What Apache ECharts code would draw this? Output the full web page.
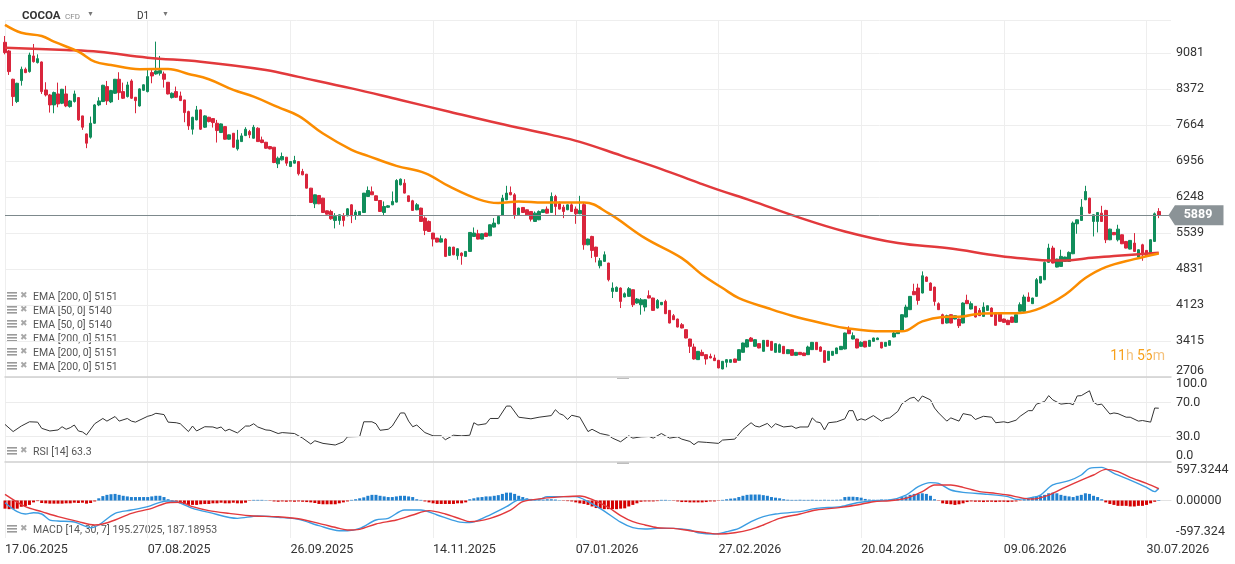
<!DOCTYPE html>
<html><head><meta charset="utf-8">
<script src="https://cdn.jsdelivr.net/npm/echarts@6/dist/echarts.min.js"></script>
<style>html,body{margin:0;padding:0;background:#fff}#c{width:1235px;height:564px}</style>
</head><body><div id="c"></div>
<script>
// ---------------- DATA ----------------
const dateLabels = ['17.06.2025','07.08.2025','26.09.2025','14.11.2025','07.01.2026','27.02.2026','20.04.2026','09.06.2026','30.07.2026'];
const priceTicks = [2706,3415,4123,4831,5539,6248,6956,7664,8372,9081];
const rsiTicks = [0,30,70,100];
const macdTickLabels = ['-597.324','0.00000','597.3244'];
const lastPrice = 5889;
// [open, close, low, high]
const candlesOCLH = [
[9297,9093,9060,9421],[9126,8720,8654,9146],[8569,8228,8044,8580],[8130,8490,8100,8500],[8543,8766,8444,8818],
[8766,8700,8690,8800],[8720,9047,8700,9093],[9028,8916,8897,9264],[8897,8975,8880,9060],[8910,8326,8280,8920],
[8359,8260,8230,8510],[8260,8064,7913,8280],[8064,8307,7900,8326],[8280,8084,8018,8503],[8097,8372,8080,8380],
[8280,8044,8020,8440],[8031,8142,8010,8160],[8130,8280,8110,8346],[8208,7769,7750,8215],[7848,7625,7572,7850],
[7493,7310,7212,7500],[7428,7703,7400,7834],[7703,8064,7690,8080],[8064,8142,8040,8215],[8130,8451,8120,8460],
[8425,8143,8064,8536],[8123,8346,8100,8360],[8293,8569,8280,8575],[8569,8306,8162,8707],[8326,8195,8180,8503],
[8228,8457,8210,8520],[8536,8195,8180,8569],[8215,8149,7900,8220],[8044,8379,8030,8390],[8352,8460,8340,8470],
[8326,8621,8310,8753],[8700,8634,8490,8766],[8674,8733,8660,9310],[8687,8740,8641,9028],[8674,8569,8405,8720],
[8510,8280,8270,8515],[8208,8293,8190,8310],[8326,8215,8200,8425],[8241,8149,8140,8326],[8162,7913,7723,8165],
[7933,7651,7572,7950],[7585,7821,7480,7830],[7769,7966,7760,8044],[7966,7585,7570,7975],[7625,7848,7610,7860],
[7821,7736,7720,7830],[7795,7716,7618,7800],[7703,7559,7323,7769],[7520,7690,7510,7700],[7637,7389,7380,7645],
[7389,7474,7380,7480],[7506,7231,7220,7510],[7198,7375,7165,7572],[7342,7454,7335,7506],[7460,7585,7450,7625],
[7539,7474,7410,7572],[7408,7625,7400,7670],[7605,7342,7335,7625],[7375,7323,7310,7440],[7329,7211,7200,7335],
[7244,7198,7190,7257],[7231,6930,6917,7231],[6904,7015,6820,7048],[6982,7048,6970,7126],[7035,6917,6864,7035],
[6851,6949,6840,6960],[6917,6969,6910,7061],[6949,6707,6674,6960],[6753,6687,6680,6805],[6700,6425,6420,6705],
[6425,6143,6138,6430],[6117,6294,6032,6300],[6281,6117,6110,6290],[6228,5946,5940,6235],[5979,5913,5905,5985],
[5966,5822,5802,5999],[5789,5868,5632,5933],[5789,5900,5704,5905],[5881,5789,5671,5933],[5881,6018,5870,6032],
[6097,5881,5736,6110],[5887,5953,5802,5999],[5887,5966,5880,5975],[5946,6327,5940,6330],[6261,6379,6255,6458],
[6353,6294,6290,6458],[6274,6182,6175,6280],[6182,5966,5960,6190],[5946,6064,5880,6163],[6048,6077,6040,6090],
[6097,6163,6090,6359],[6150,6576,6143,6602],[6490,6602,6480,6615],[6523,6327,6320,6602],[6274,6163,6150,6280],
[6176,5986,5980,6195],[5999,6097,5990,6130],[6032,5769,5760,6040],[5835,5592,5500,5868],[5769,5572,5565,5789],
[5540,5422,5277,5545],[5441,5363,5355,5445],[5363,5428,5355,5494],[5422,5081,5068,5441],[5101,5264,5095,5270],
[5264,5113,5105,5270],[5094,5232,5015,5245],[5146,5094,4917,5160],[5081,5179,5075,5185],[5179,5553,5170,5560],
[5474,5540,5465,5651],[5527,5422,5415,5605],[5422,5527,5415,5535],[5540,5474,5465,5545],[5487,5704,5480,5710],
[5658,5737,5650,5835],[5723,5868,5715,5875],[5887,6228,5880,6294],[6195,6327,6190,6471],[6340,6294,6285,6458],
[6294,5900,5822,6327],[5900,6032,5895,6040],[6045,5946,5940,6051],[5999,5900,5895,6005],[5966,5815,5769,5972],
[5769,5933,5762,5966],[5802,5966,5795,5986],[5946,5999,5940,6005],[6012,5933,5925,6064],[5946,6261,5940,6340],
[6261,6064,5881,6294],[6117,6012,6005,6163],[6051,5966,5835,6097],[5999,6097,5992,6103],[6097,5966,5960,6130],
[6012,5920,5723,6064],[5920,5986,5913,6274],[6100,5310,5212,6143],[5310,5422,5300,5430],[5474,5199,5048,5487],
[5264,5081,4963,5270],[4897,4995,4845,5048],[4983,5113,4975,5179],[4950,4622,4589,4955],[4392,4457,4261,4569],
[4392,4471,4385,4490],[4458,4195,4064,4471],[4281,4346,4275,4372],[4294,4445,4287,4477],[4425,4130,4084,4430],
[4163,4241,4150,4261],[4130,4228,3933,4261],[4084,4228,3999,4235],[4307,4261,4255,4412],[4261,4018,4010,4268],
[4064,4215,4055,4241],[4130,4176,4120,4182],[4195,3953,3945,4228],[4018,3769,3762,4025],[3913,3835,3828,3946],
[3848,3690,3683,3855],[3736,3671,3664,3769],[3638,3474,3467,3645],[3454,3310,3179,3460],[3297,3061,3048,3363],
[3048,3212,3042,3218],[3192,3127,3120,3245],[3146,3061,2950,3152],[3113,3081,3075,3166],[3081,3028,3022,3146],
[3035,2884,2878,3042],[2864,3015,2858,3022],[2995,3048,2897,3061],[2995,3048,2989,3055],[3061,2995,2989,3068],
[3035,3245,3028,3251],[3192,3376,3186,3383],[3297,3441,3290,3454],[3474,3409,3402,3494],[3310,3441,3304,3448],
[3363,3278,3271,3370],[3212,3428,3205,3435],[3428,3310,3304,3435],[3408,3232,3225,3415],[3192,3363,3186,3370],
[3192,3343,3186,3363],[3310,3166,3160,3317],[3166,3245,3160,3251],[3245,3133,3127,3251],[3133,3192,3127,3199],
[3192,3146,3140,3199],[3179,3127,3120,3186],[3146,3297,3140,3323],[3245,3389,3238,3396],[3389,3245,3238,3396],
[3297,3212,3205,3310],[3225,2995,2989,3232],[3035,3212,3028,3218],[3133,3212,3127,3218],[3166,3278,3160,3284],
[3245,3310,3238,3317],[3258,3573,3251,3580],[3651,3559,3552,3704],[3454,3520,3448,3585],[3454,3278,3271,3460],
[3310,3389,3304,3409],[3409,3297,3290,3415],[3310,3428,3304,3435],[3408,3474,3402,3481],[3441,3474,3435,3481],
[3389,3278,3271,3396],[3310,3389,3304,3396],[3330,3422,3323,3428],[3494,3573,3487,3625],[3560,3605,3553,3612],
[3605,3933,3598,3940],[3887,4084,3880,4130],[4032,4294,4025,4300],[4392,4326,4320,4543],[4458,4215,4130,4543],
[4360,4700,4353,4786],[4674,4589,4582,4687],[4556,4412,4405,4569],[4477,4195,4110,4484],[4150,4032,4025,4176],
[3933,3756,3749,3953],[3769,3914,3762,3933],[3933,3769,3762,3940],[3848,3913,3841,3920],[3848,3717,3671,3855],
[3769,4163,3762,4176],[4215,4150,4143,4327],[4045,4150,4038,4195],[4097,3887,3880,4104],[4018,3914,3907,4064],
[3900,4084,3893,4176],[4018,4110,4012,4117],[4064,3900,3893,4077],[3966,3724,3717,3973],[3966,3802,3795,3973],
[3848,3782,3775,3855],[3822,3737,3730,3835],[3887,3782,3775,3894],[3782,3933,3775,3940],[4000,4130,3993,4176],
[3999,4281,3992,4327],[4281,4196,4189,4372],[4150,4261,4143,4268],[4294,4622,4287,4655],[4556,4687,4549,4694],
[4622,4963,4615,4983],[4963,5245,4956,5330],[5245,4950,4943,5290],[4871,5028,4864,5035],[4884,5081,4877,5212],
[4983,5068,4976,5075],[4983,5160,4976,5179],[5133,5737,5126,5769],[5723,5802,5527,5809],[5789,6051,5782,6209],
[6196,6359,6189,6471],[6228,5933,5920,6235],[5769,5900,5474,5907],[5769,5946,5553,5953],[5933,5769,5762,6077],
[5986,5408,5343,5999],[5408,5618,5401,5625],[5553,5507,5500,5560],[5408,5618,5376,5704],[5507,5330,5323,5514],
[5376,5245,5238,5383],[5225,5396,5218,5403],[5343,5179,5172,5540],[5068,5212,5061,5219],[5310,5113,4995,5330],
[5199,5094,5087,5206],[5113,5409,5106,5416],[5376,5920,5369,5946],[5966,5889,5834,6031]
];
// EMA lines: [candle index, value]
const ema200 = [[0,9190],[15,9146],[23,9110],[35,8995],[48,8916],[64,8753],[72,8616],[85,8390],[97,8160],[109,7931],[121,7702],[134,7474],[141,7336],[151,7070],[161,6800],[170,6535],[175,6392],[183,6180],[194,5868],[206,5572],[219,5343],[231,5245],[244,5090],[251,5030],[256,5000],[260,5000],[265,5040],[272,5090],[283,5151]];
const ema50 = [[0,9640],[4,9486],[9,9421],[12,9309],[18,9113],[22,8916],[26,8851],[33,8766],[40,8772],[45,8674],[50,8570],[56,8359],[61,8228],[67,8019],[72,7848],[78,7500],[85,7179],[89,7061],[96,6864],[103,6720],[109,6458],[116,6209],[121,6131],[126,6163],[132,6143],[142,6143],[148,5933],[157,5441],[166,5048],[171,4720],[176,4458],[180,4261],[187,4064],[193,3913],[202,3737],[206,3671],[215,3605],[220,3605],[225,3802],[230,3888],[235,3900],[239,3953],[249,3966],[254,4064],[260,4327],[265,4655],[270,4871],[277,5028],[283,5140]];
const rsi = [[0,44.2],[2,35.8],[4,42.3],[6,47.3],[8,46.9],[9,39.6],[11,36.5],[13,37.7],[14,41.5],[15,38.5],[16,40.4],[17,43.5],[18,36.5],[19,35.4],[20,31.9],[22,45.0],[24,51.2],[25,48.1],[27,53.5],[28,48.1],[30,51.2],[31,48.1],[32,46.9],[35,53.8],[36,55.0],[37,57.3],[39,55.8],[40,46.9],[42,46.2],[43,45.0],[45,35.8],[46,42.3],[47,36.5],[49,41.5],[51,41.2],[52,39.6],[53,41.2],[54,36.5],[55,38.5],[57,34.2],[59,42.3],[60,42.3],[61,45.0],[62,41.2],[64,37.7],[65,37.3],[67,33.5],[68,34.6],[71,33.5],[73,28.1],[75,21.2],[76,25.0],[78,21.9],[81,20.0],[83,23.8],[84,29.6],[87,30.0],[88,47.3],[90,47.3],[91,45.0],[92,37.3],[94,38.5],[95,42.3],[97,57.7],[98,57.7],[99,48.1],[100,41.5],[101,43.5],[103,34.6],[105,30.8],[107,30.8],[108,26.2],[110,31.5],[112,30.8],[114,31.5],[115,46.2],[116,43.5],[118,45.0],[119,51.2],[121,51.2],[123,65.8],[124,65.8],[126,52.7],[129,50.8],[131,52.7],[134,54.6],[135,61.5],[136,56.9],[137,55.0],[138,50.0],[139,55.0],[141,52.7],[143,35.8],[144,38.5],[146,33.5],[148,31.5],[149,28.1],[151,23.8],[153,30.8],[154,28.1],[156,29.6],[158,30.0],[159,28.1],[161,33.5],[162,30.8],[163,28.1],[165,29.6],[166,26.9],[168,24.2],[169,20.4],[170,23.8],[172,23.1],[175,21.9],[176,25.8],[179,26.9],[181,38.5],[183,46.2],[184,42.3],[185,41.2],[187,45.4],[188,40.4],[189,45.0],[191,41.2],[193,42.3],[194,39.6],[195,41.2],[197,41.2],[198,51.9],[199,47.3],[200,46.2],[201,37.7],[202,46.2],[204,47.3],[206,50.8],[207,60.4],[208,60.4],[209,48.8],[210,50.8],[211,49.2],[213,54.6],[215,48.1],[216,51.2],[217,51.9],[219,59.6],[220,68.5],[222,75.0],[223,76.2],[224,71.2],[225,77.7],[227,73.1],[228,63.5],[229,57.7],[231,48.1],[232,51.9],[234,48.1],[235,56.9],[237,55.0],[238,50.0],[240,53.8],[242,52.7],[243,46.2],[245,47.3],[246,46.2],[248,49.2],[249,53.8],[251,60.4],[252,60.4],[253,68.1],[255,71.2],[256,78.1],[257,73.1],[259,68.1],[261,69.2],[262,67.3],[263,77.7],[264,78.1],[266,83.8],[267,70.4],[268,67.3],[269,68.1],[271,56.5],[272,57.7],[273,56.9],[275,52.7],[276,52.7],[278,48.1],[279,48.8],[281,46.9],[282,63.5],[283,63.3]];
const macdLine = [[0,-35],[3,-178],[5,-215],[7,-194],[9,-215],[11,-311],[13,-327],[17,-343],[21,-433],[23,-390],[27,-205],[31,-152],[35,-98],[38,-29],[40,-8],[42,-19],[46,-125],[50,-189],[57,-284],[62,-247],[67,-268],[72,-300],[77,-401],[82,-481],[84,-481],[87,-444],[91,-311],[94,-284],[98,-152],[102,-152],[106,-231],[111,-337],[114,-353],[118,-258],[123,-98],[126,8],[131,18],[133,61],[137,61],[140,61],[143,-19],[147,-170],[151,-345],[154,-433],[157,-454],[160,-444],[164,-444],[168,-470],[170,-513],[174,-534],[177,-497],[180,-444],[183,-337],[186,-258],[189,-215],[195,-178],[199,-125],[205,-98],[209,-35],[213,-3],[217,8],[221,87],[224,220],[227,284],[229,273],[232,167],[235,130],[241,98],[246,61],[248,18],[252,50],[254,87],[257,247],[261,316],[264,406],[266,512],[269,528],[272,433],[276,326],[280,210],[282,141],[283,195]];
const signalLine = [[0,98],[5,-98],[9,-178],[13,-258],[18,-337],[22,-390],[24,-374],[27,-311],[31,-205],[36,-125],[40,-35],[43,-29],[46,-98],[50,-162],[55,-205],[61,-247],[67,-258],[72,-290],[77,-364],[82,-444],[84,-470],[87,-459],[91,-374],[96,-311],[100,-231],[104,-162],[108,-215],[112,-300],[114,-337],[119,-284],[124,-152],[127,-19],[132,34],[137,61],[141,72],[144,18],[148,-110],[151,-240],[154,-337],[157,-390],[160,-433],[164,-444],[168,-481],[172,-513],[175,-534],[179,-513],[183,-459],[186,-390],[190,-284],[195,-215],[199,-152],[205,-109],[209,-72],[213,-19],[217,-3],[221,34],[225,141],[228,247],[232,247],[235,210],[239,141],[243,114],[246,87],[250,34],[252,24],[256,87],[260,210],[264,326],[267,406],[270,496],[273,459],[276,369],[280,273],[283,187]];
const macdHist = [
-130,-138,-138,-130,-100,-90,-70,-30,-10,-40,-45,-50,-50,-50,-50,-45,-45,-35,-40,-35,
-50,-40,-15,35,70,90,100,105,90,75,65,55,55,55,55,55,65,75,75,55,
20,-15,-30,-45,-60,-70,-70,-70,-60,-55,-55,-45,-45,-35,-45,-45,-35,-45,-45,-35,
-5,10,10,10,5,-5,-15,-20,-15,-20,-15,-20,-15,-20,-25,-30,-40,-55,-60,-60,
-60,-60,-45,-30,-15,10,20,35,50,75,90,90,75,65,55,55,65,75,75,65,
55,20,10,-15,-30,-45,-55,-55,-55,-55,-55,-45,-45,-30,20,35,50,55,65,65,
75,85,105,125,125,105,75,55,35,25,20,10,15,20,20,15,5,-5,-10,-15,
-30,-45,-55,-70,-95,-120,-130,-138,-138,-138,-138,-130,-125,-95,-70,-45,-20,-15,-15,-15,
-10,10,10,5,-5,-15,-25,-25,-30,-30,-30,-30,-25,-15,-15,-5,10,20,30,35,
55,75,90,95,95,95,85,75,55,45,35,20,12,10,10,12,10,10,12,10,
10,12,10,10,12,15,55,60,60,55,45,25,15,12,10,15,12,15,20,25,
55,65,90,105,105,115,105,75,20,-5,-45,-55,-60,-70,-60,-45,-25,-15,-20,-20,
-25,-20,-20,-25,-20,-20,-25,-20,-15,-5,20,35,55,65,75,90,115,125,115,90,
75,65,55,75,90,115,105,75,55,20,-30,-55,-70,-85,-85,-85,-95,-95,-85,-85,
-70,-45,-20,8
];
const emaLegend = ['EMA [200, 0] 5151','EMA [50, 0] 5140','EMA [50, 0] 5140','EMA [200, 0] 5151','EMA [200, 0] 5151','EMA [200, 0] 5151'];

// ---------------- CHART ----------------
const SLOTS = 287, LABEL_STEP = 35;
const cats = [];
for (let i = 0; i < SLOTS; i++) cats.push(String(i));
const showTick = (i) => i % LABEL_STEP === 0;
const FONT = 'Roboto, "Noto Sans", sans-serif';
const GREEN = '#118d5b', RED = '#d9253c';

function xAx(grid, opts) {
  return Object.assign({
    type: 'category', gridIndex: grid, data: cats, boundaryGap: false,
    axisLine: { show: true, lineStyle: { color: '#cfcfcf', width: 1.5 } },
    axisTick: { show: false }, axisLabel: { show: false },
    splitLine: { show: true, interval: showTick, lineStyle: { color: '#eeeeee', width: 1 } }
  }, opts || {});
}

const graphics = [];
graphics.push({ type: 'text', left: 22, top: 10, style: { text: 'COCOA', font: 'bold 11.5px ' + FONT, fill: '#333' } });
graphics.push({ type: 'text', left: 65, top: 13, style: { text: 'CFD', font: '8px ' + FONT, fill: '#8a8a8a' } });
graphics.push({ type: 'text', left: 87, top: 11, style: { text: '▼', font: '7px ' + FONT, fill: '#777' } });
graphics.push({ type: 'text', left: 137, top: 11, style: { text: 'D1', font: '10px ' + FONT, fill: '#333' } });
graphics.push({ type: 'text', left: 162, top: 11, style: { text: '▼', font: '7px ' + FONT, fill: '#777' } });

function legendLine(y, txt) {
  graphics.push({ type: 'rect', shape: { x: 7, y: y - 4, width: 10, height: 1.6 }, style: { fill: '#9a9a9a' } });
  graphics.push({ type: 'rect', shape: { x: 7, y: y - 1, width: 10, height: 1.6 }, style: { fill: '#9a9a9a' } });
  graphics.push({ type: 'rect', shape: { x: 7, y: y + 2, width: 10, height: 1.6 }, style: { fill: '#9a9a9a' } });
  graphics.push({ type: 'text', x: 20, y: y, style: { text: '✖', font: '9px "DejaVu Sans"', fill: '#a8a8a8', verticalAlign: 'middle' } });
  graphics.push({ type: 'text', x: 33, y: y + 1, style: { text: txt, font: '10.5px ' + FONT, fill: '#555', verticalAlign: 'middle' } });
}
emaLegend.forEach((t, k) => legendLine(296 + k * 14, t));
legendLine(451, 'RSI [14] 63.3');
legendLine(529, 'MACD [14, 30, 7] 195.27025, 187.18953');
graphics.push({ type: 'rect', shape: { x: 617, y: 377, width: 12, height: 2 }, style: { fill: '#bdbdbd' } });
graphics.push({ type: 'rect', shape: { x: 617, y: 462, width: 12, height: 2 }, style: { fill: '#bdbdbd' } });
graphics.push({ type: 'text', right: 70, top: 349, style: {
  text: '{a|11}{b|h} {a|56}{b|m}', rich: { a: { fill: '#f7a01c', font: '14px ' + FONT }, b: { fill: '#f5c27c', font: '14px ' + FONT } } } });

const option = {
  animation: false,
  textStyle: { fontFamily: FONT },
  grid: [
    { left: 5, right: 64, top: 20, height: 357 },
    { left: 5, right: 64, top: 377, height: 85 },
    { left: 5, right: 64, top: 463, height: 75 }
  ],
  xAxis: [
    xAx(0), xAx(1),
    xAx(2, { axisLine: { show: true, lineStyle: { color: '#e2e2e2', width: 1 } },
      axisLabel: { show: true, interval: showTick, align: 'left', margin: 5, color: '#333', fontSize: 12.5,
        formatter: (v, i) => dateLabels[Math.round(i / LABEL_STEP)] || '' } })
  ],
  yAxis: [
    { type: 'value', gridIndex: 0, position: 'right', min: 2706.3, max: 9736, interval: 708.25,
      axisLine: { show: false }, axisTick: { show: false },
      splitLine: { lineStyle: { color: '#eeeeee' } },
      axisLabel: { margin: 5, color: '#333', fontSize: 12.5, showMaxLabel: false, verticalAlignMinLabel: 'bottom',
        formatter: v => { let best = priceTicks[0]; priceTicks.forEach(t => { if (Math.abs(t - v) < Math.abs(best - v)) best = t; }); return String(best); } } },
    { type: 'value', gridIndex: 1, position: 'right', min: 0, max: 100, interval: 10,
      axisLine: { show: false }, axisTick: { show: false }, splitLine: { show: false },
      axisLabel: { margin: 5, color: '#333', fontSize: 12.5, verticalAlignMinLabel: 'bottom', verticalAlignMaxLabel: 'top',
        formatter: v => rsiTicks.includes(Math.round(v)) ? Math.round(v).toFixed(1) : '' } },
    { type: 'value', gridIndex: 2, position: 'right', min: -597.3244, max: 597.3244, interval: 597.3244,
      axisLine: { show: false }, axisTick: { show: false }, splitLine: { show: false },
      axisLabel: { margin: 5, color: '#333', fontSize: 12.5, verticalAlignMinLabel: 'bottom', verticalAlignMaxLabel: 'top',
        formatter: v => v > 1 ? macdTickLabels[2] : (v < -1 ? macdTickLabels[0] : macdTickLabels[1]) } }
  ],
  graphic: graphics,
  series: [
    { type: 'candlestick', xAxisIndex: 0, yAxisIndex: 0, data: candlesOCLH, barWidth: 3, clip: false,
      itemStyle: { color: GREEN, color0: RED, borderColor: GREEN, borderColor0: RED, borderWidth: 1 },
      markLine: { silent: true, symbol: 'none', label: { show: false },
        lineStyle: { color: '#7d898c', width: 1, type: 'solid' }, data: [{ yAxis: lastPrice }] },
      markPoint: { silent: true, data: [{ coord: [SLOTS - 1, lastPrice], value: lastPrice,
        symbol: 'path://M0,10 L7,0 L60,0 L60,20 L7,20 Z', symbolKeepAspect: false, symbolSize: [55, 20], symbolOffset: [25, 0],
        itemStyle: { color: '#8b9397' },
        label: { show: true, formatter: String(lastPrice), color: '#fff', fontSize: 12.5, fontWeight: 'bold', offset: [2, 0] } }] } },
    { type: 'line', name: 'EMA200', xAxisIndex: 0, yAxisIndex: 0, data: ema200, smooth: 0.4, showSymbol: false,
      lineStyle: { color: '#e2393c', width: 2.5 }, z: 3 },
    { type: 'line', name: 'EMA50', xAxisIndex: 0, yAxisIndex: 0, data: ema50, smooth: 0.4, showSymbol: false,
      lineStyle: { color: '#fb8c00', width: 2.5 }, z: 3 },
    { type: 'line', name: 'RSI', xAxisIndex: 1, yAxisIndex: 1, data: rsi, showSymbol: false,
      lineStyle: { color: '#333', width: 1 },
      markLine: { silent: true, symbol: 'none', label: { show: false }, lineStyle: { color: '#ececec', width: 1, type: 'solid' },
        data: [{ yAxis: 70 }, { yAxis: 30 }] } },
    { type: 'bar', xAxisIndex: 2, yAxisIndex: 2, data: macdHist, barWidth: 3,
      itemStyle: { color: p => p.value >= 0 ? '#1f7fcf' : '#d40000' } },
    { type: 'line', name: 'MACD', xAxisIndex: 2, yAxisIndex: 2, data: macdLine, smooth: 0.3, showSymbol: false,
      lineStyle: { color: '#3c9de2', width: 1.4 } },
    { type: 'line', name: 'Signal', xAxisIndex: 2, yAxisIndex: 2, data: signalLine, smooth: 0.3, showSymbol: false,
      lineStyle: { color: '#e2393c', width: 1.4 } }
  ]
};
const chart = echarts.init(document.getElementById('c'));
chart.setOption(option);
</script></body></html>
